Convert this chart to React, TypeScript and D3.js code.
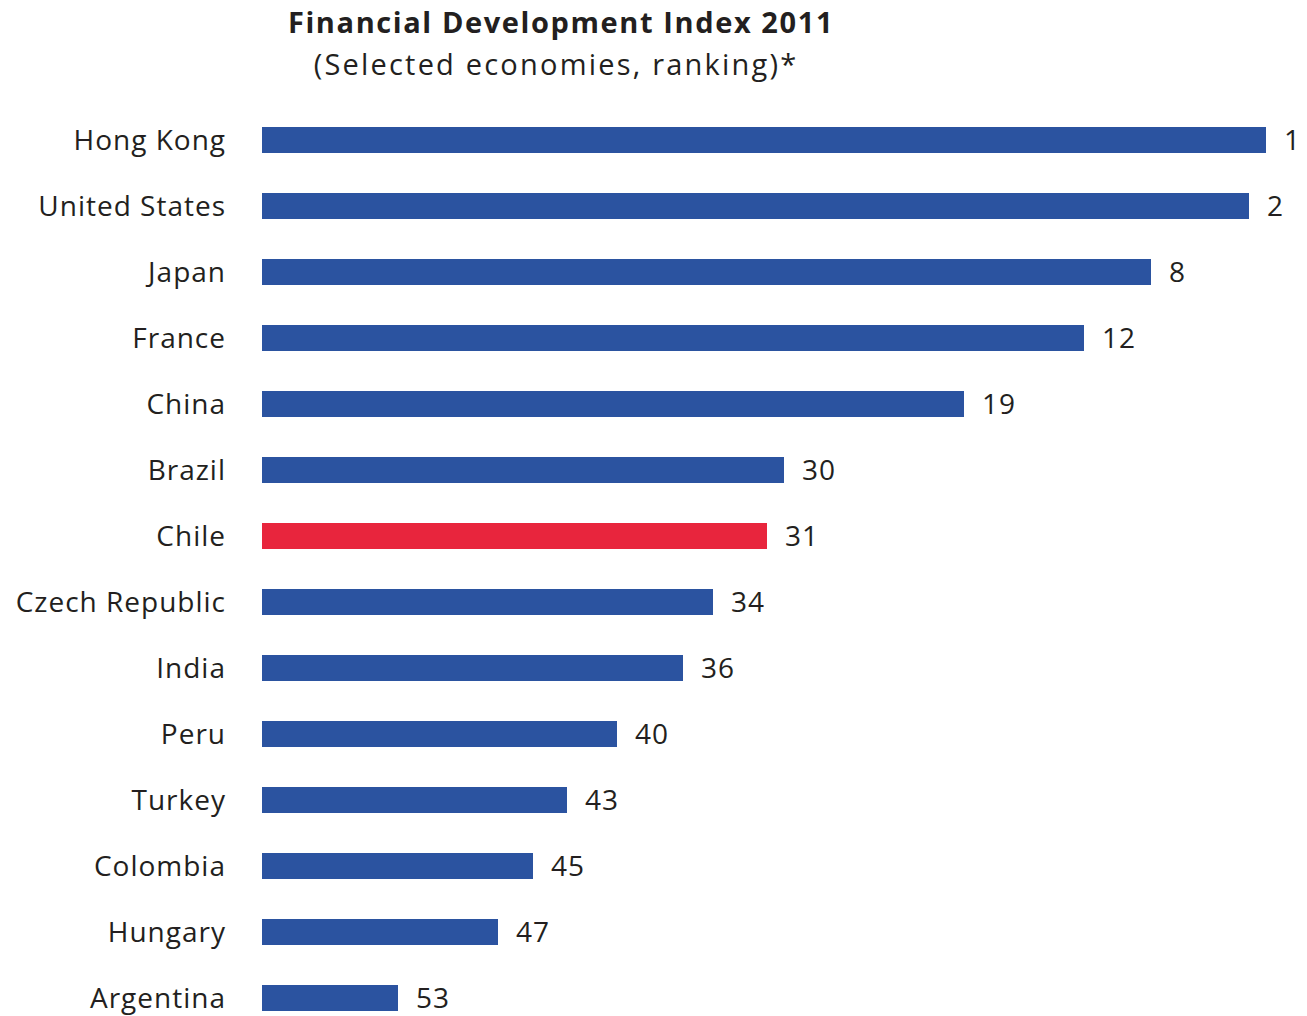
import React from "react";
import * as d3 from "d3";

const countries = [
  "Hong Kong", "United States", "Japan", "France", "China", "Brazil", "Chile",
  "Czech Republic", "India", "Peru", "Turkey", "Colombia", "Hungary", "Argentina",
];
const ranks = [1, 2, 8, 12, 19, 30, 31, 34, 36, 40, 43, 45, 47, 53];
// bar lengths (relative score)
const scores = [5.02, 4.935, 4.445, 4.11, 3.51, 2.61, 2.525, 2.255, 2.105, 1.775, 1.525, 1.355, 1.18, 0.68];
const highlight = "Chile";

const W = 1307;
const H = 1016;

export default function App() {
  const x = d3.scaleLinear().domain([0, d3.max(scores) as number]).range([262, 1266]);
  const y = d3.scalePoint<string>().domain(countries).range([140, 998]);
  const barH = 26;
  const font = "'Open Sans', 'Noto Sans', sans-serif";
  const textColor = "#231f20";

  return (
    <svg width={W} height={H} style={{ position: "absolute", left: 0, top: 0, background: "#fff" }} fontFamily={font}>
      <text x={561} y={33} textAnchor="middle" fontSize={29} fontWeight={700} letterSpacing={1.6} fill={textColor}>
        Financial Development Index 2011
      </text>
      <text x={556} y={75} textAnchor="middle" fontSize={29} letterSpacing={2.2} fill={textColor}>
        (Selected economies, ranking)*
      </text>
      {countries.map((c, i) => {
        const cy = y(c) as number;
        return (
          <g key={c}>
            <text x={226} y={cy} dy="0.35em" textAnchor="end" fontSize={28} letterSpacing={1} fill={textColor}>
              {c}
            </text>
            <rect
              x={x(0)}
              y={cy - barH / 2}
              width={x(scores[i]) - x(0)}
              height={barH}
              fill={c === highlight ? "#e8253d" : "#2b53a0"}
            />
            <text x={x(scores[i]) + 18} y={cy} dy="0.35em" fontSize={28} letterSpacing={1} fill={textColor}>
              {ranks[i]}
            </text>
          </g>
        );
      })}
    </svg>
  );
}
